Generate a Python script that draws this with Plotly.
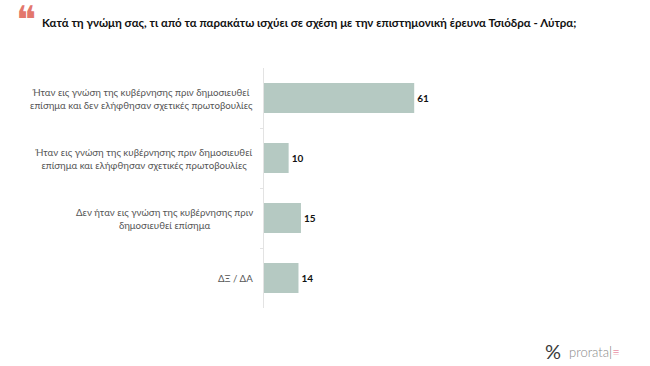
import plotly.graph_objects as go

categories = [
    "Ήταν εις γνώση της κυβέρνησης πριν δημοσιευθεί<br>επίσημα και δεν ελήφθησαν σχετικές πρωτοβουλίες",
    "Ήταν εις γνώση της κυβέρνησης πριν δημοσιευθεί<br>επίσημα και ελήφθησαν σχετικές πρωτοβουλίες",
    "Δεν ήταν εις γνώση της κυβέρνησης πριν<br>δημοσιευθεί επίσημα",
    "ΔΞ / ΔΑ",
]
values = [61, 10, 15, 14]
title = "Κατά τη γνώμη σας, τι από τα παρακάτω ισχύει σε σχέση με την επιστημονική έρευνα Τσιόδρα - Λύτρα;"

ypos = list(range(len(categories)))
FONT = "Lato"

W, H = 650, 366
L, R, T, B = 264, 189, 68, 58
PW, PH = W - L - R, H - T - B


def px(x):
    return (x - L) / PW


def py(y):
    return (H - B - y) / PH


fig = go.Figure(go.Bar(
    x=values, y=ypos, orientation="h",
    marker=dict(color="#b5c9c2", line=dict(width=0)),
    width=0.5,
    text=[f"<b>{v}</b>" for v in values],
    textposition="outside",
    textfont=dict(family=FONT, size=10, color="#111111"),
    cliponaxis=False,
    hoverinfo="skip",
))

for y, c in zip(ypos, categories):
    fig.add_annotation(
        x=0, xref="paper", y=y, yref="y", text=c, showarrow=False,
        xanchor="right", yanchor="middle", align="center", xshift=-9,
        font=dict(family=FONT, size=9.7, color="#555555"),
    )

fig.add_annotation(
    x=px(40), xref="paper", y=py(22), yref="paper", text="<b>" + title + "</b>",
    showarrow=False, xanchor="left", yanchor="middle",
    font=dict(family=FONT, size=11.5, color="#111111"),
)
fig.add_annotation(
    x=px(26), xref="paper", y=py(20), yref="paper", text="\u275D",
    showarrow=False, xanchor="center", yanchor="middle",
    font=dict(family="DejaVu Sans", size=38, color="#e3776c"),
)
fig.add_annotation(
    x=px(543), xref="paper", y=py(351), yref="paper", text="%",
    showarrow=False, xanchor="left", yanchor="middle",
    font=dict(family=FONT, size=20, color="#3a3a3a"),
)
fig.add_annotation(
    x=px(567), xref="paper", y=py(352), yref="paper",
    text="prorata<span style='color:#555'>|</span><span style='color:#e05a7a'>≡</span>",
    showarrow=False, xanchor="left", yanchor="middle",
    font=dict(family="Lato Light, Lato", size=13, color="#888888"),
)

fig.update_layout(
    width=W, height=H,
    margin=dict(l=L, r=R, t=T, b=B),
    paper_bgcolor="white", plot_bgcolor="white",
    showlegend=False,
    bargap=0.5,
    xaxis=dict(range=[0, 80], visible=False, fixedrange=True),
    yaxis=dict(
        range=[3.5, -0.5], tickvals=[0.5, 1.5, 2.5], showticklabels=False,
        ticks="outside", ticklen=3, tickcolor="#e3e3e3",
        showline=True, linecolor="#e3e3e3", linewidth=1,
        showgrid=False, zeroline=False, fixedrange=True,
    ),
)

fig.write_html("out.html", config={"displayModeBar": False},
               post_script="document.body.style.margin='0';")
